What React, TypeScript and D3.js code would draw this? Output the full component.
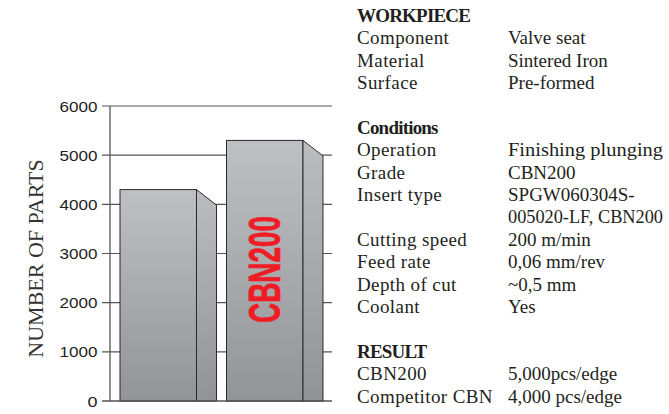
import React from "react";
import * as d3 from "d3";

const categories = ["Competitor CBN", "CBN200"];
const partsPerEdge = [4300, 5300];
const barLabels = ["", "CBN200"];
const yTicks = [0, 1000, 2000, 3000, 4000, 5000, 6000];
const yAxisTitle = "NUMBER OF PARTS";

const workpieceTitle = "WORKPIECE";
const workpieceRows: [string, string][] = [
  ["Component", "Valve seat"],
  ["Material", "Sintered Iron"],
  ["Surface", "Pre-formed"],
];
const conditionsTitle = "Conditions";
const conditionRows: [string, string][] = [
  ["Operation", "Finishing plunging"],
  ["Grade", "CBN200"],
  ["Insert type", "SPGW060304S-"],
  ["", "005020-LF, CBN200"],
  ["Cutting speed", "200 m/min"],
  ["Feed rate", "0,06 mm/rev"],
  ["Depth of cut", "~0,5 mm"],
  ["Coolant", "Yes"],
];
const resultTitle = "RESULT";
const resultRows: [string, string][] = [
  ["CBN200", "5,000pcs/edge"],
  ["Competitor CBN", "4,000 pcs/edge"],
];

const W = 669;
const H = 414;

export default function App() {
  const y = d3.scaleLinear().domain([0, 6000]).range([401, 106]);
  const x = d3
    .scaleBand<string>()
    .domain(categories)
    .range([110, 333])
    .paddingInner(0.094)
    .paddingOuter(0.094);
  const depthX = 20;
  const depthY = 15.5;
  const front = x.bandwidth() - depthX;

  type Line = { kind: "title" | "row" | "blank"; a?: string; b?: string };
  const lines: Line[] = [
    { kind: "title", a: workpieceTitle },
    ...workpieceRows.map(([a, b]) => ({ kind: "row" as const, a, b })),
    { kind: "blank" },
    { kind: "title", a: conditionsTitle },
    ...conditionRows.map(([a, b]) => ({ kind: "row" as const, a, b })),
    { kind: "blank" },
    { kind: "title", a: resultTitle },
    ...resultRows.map(([a, b]) => ({ kind: "row" as const, a, b })),
  ];
  const lineY = (i: number) => 21.7 + i * 22.4;
  const col1 = 357;
  const col2 = 508;
  const col2Max = 155;
  const serif = "'Liberation Serif', 'Times New Roman', serif";
  const textColor = "#231f20";

  return (
    <svg
      width={W}
      height={H}
      style={{ position: "absolute", left: 0, top: 0, background: "#fff" }}
    >
      <defs>
        <linearGradient id="frontGrad" x1="0" y1="0" x2="0" y2="1">
          <stop offset="0" stopColor="#bfc0c3" />
          <stop offset="1" stopColor="#939497" />
        </linearGradient>
        <linearGradient id="sideGrad" x1="0" y1="0" x2="0" y2="1">
          <stop offset="0" stopColor="#bcbdc0" />
          <stop offset="1" stopColor="#929396" />
        </linearGradient>
      </defs>

      {yTicks.map((t) => (
        <g key={t}>
          <line x1={102} x2={332} y1={y(t)} y2={y(t)} stroke="#555" strokeWidth={1.2} />
          <text
            x={97.5}
            y={y(t)}
            dy="0.36em"
            textAnchor="end"
            fontFamily="'Liberation Sans', Arial, sans-serif"
            fontSize={15.5}
            fill="#1e1e1e"
            textLength={t === 0 ? 10 : 38}
            lengthAdjust="spacingAndGlyphs"
          >
            {t}
          </text>
        </g>
      ))}
      <line x1={110} x2={110} y1={y(6000)} y2={y(0)} stroke="#555" strokeWidth={1.3} />

      {categories.map((c, i) => {
        const x0 = x(c)!;
        const yt = y(partsPerEdge[i]);
        const yb = y(0);
        const xr = x0 + front;
        const side = `M${xr},${yt} L${xr + depthX},${yt + depthY} L${xr + depthX},${yb} L${xr},${yb} Z`;
        return (
          <g key={c}>
            <rect
              x={x0}
              y={yt}
              width={front}
              height={yb - yt}
              fill="url(#frontGrad)"
              stroke="#2a2a2a"
              strokeWidth={1}
            />
            <path d={side} fill="url(#sideGrad)" stroke="#2a2a2a" strokeWidth={1} />
            {barLabels[i] && (
              <text
                transform={`translate(${x0 + front / 2 + 15.5},${269.5}) rotate(-90)`}
                textAnchor="middle"
                fontFamily="'Liberation Sans', Arial, sans-serif"
                fontWeight={700}
                fontSize={44}
                fill="#ee1c25"
                stroke="#ee1c25"
                strokeWidth={0.8}
                textLength={107}
                lengthAdjust="spacingAndGlyphs"
              >
                {barLabels[i]}
              </text>
            )}
          </g>
        );
      })}
      <line x1={102} x2={332} y1={y(0)} y2={y(0)} stroke="#555" strokeWidth={1.2} />

      <text
        transform={`translate(43,258.5) rotate(-90)`}
        textAnchor="middle"
        fontFamily={serif}
        fontSize={22}
        fill="#333"
      >
        {yAxisTitle}
      </text>

      {lines.map((l, i) =>
        l.kind === "title" ? (
          <text
            key={i}
            x={col1}
            y={lineY(i)}
            fontFamily={serif}
            fontWeight={700}
            fontSize={19}
            letterSpacing={-0.8}
            fill={textColor}
          >
            {l.a}
          </text>
        ) : l.kind === "row" ? (
          <g key={i} fontFamily={serif} fontSize={19} fill={textColor}>
            {l.a && (
              <text x={col1} y={lineY(i)} letterSpacing={0.4}>
                {l.a}
              </text>
            )}
            <text
              x={col2}
              y={lineY(i)}
              {...((l.b || "").length > 16
                ? { textLength: col2Max, lengthAdjust: "spacingAndGlyphs" }
                : {})}
            >
              {l.b}
            </text>
          </g>
        ) : null
      )}
    </svg>
  );
}
